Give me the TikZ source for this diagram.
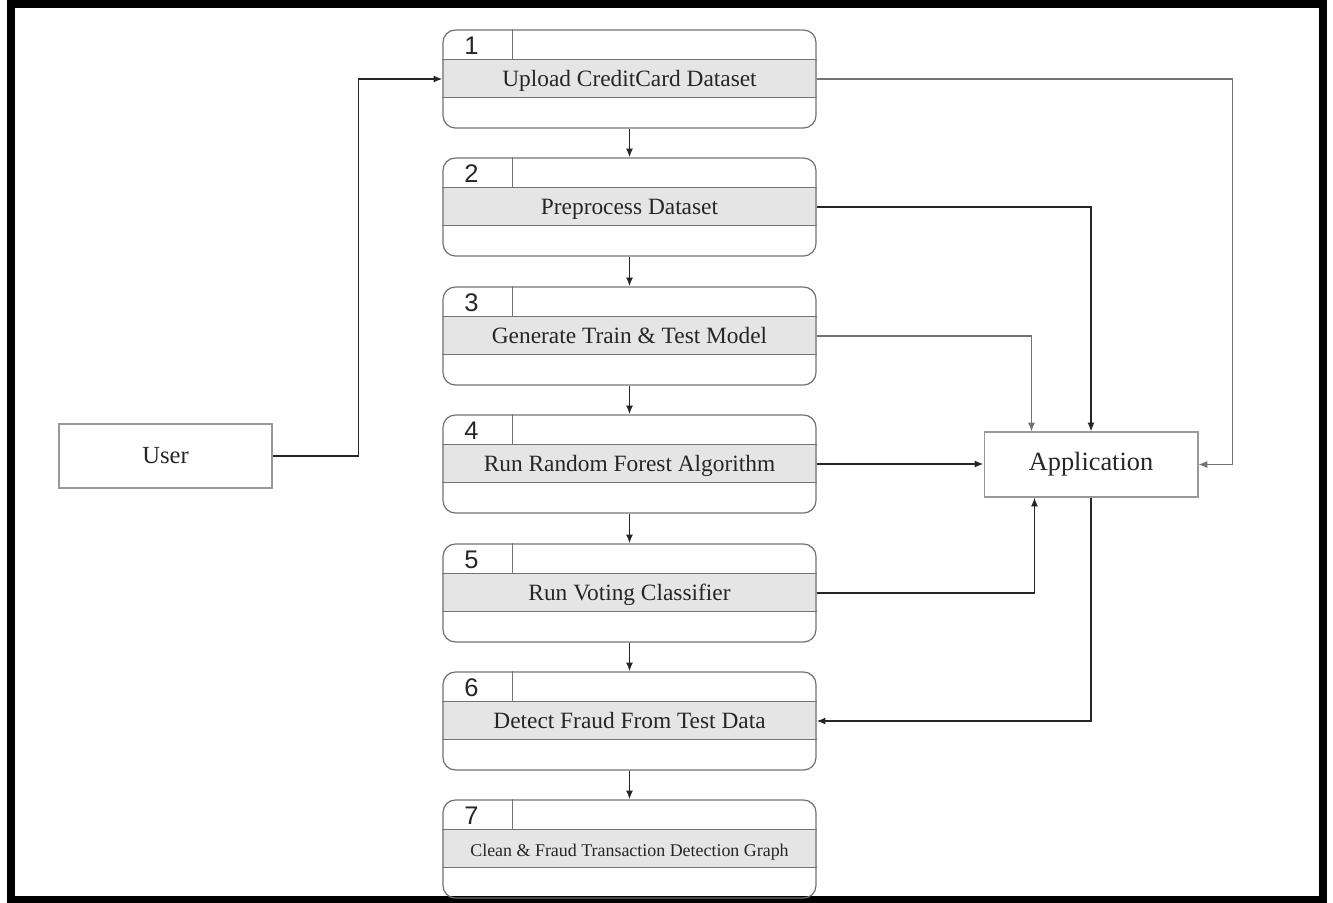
\documentclass[tikz,border=0pt]{standalone}
\usepackage{fontspec}
\setmainfont{Liberation Serif}
\newfontfamily\numfont{Liberation Sans}
\usetikzlibrary{arrows.meta, calc, backgrounds, positioning}

\begin{document}
\begin{tikzpicture}[x=0.02cm, y=-0.02cm,
  proc/.style={draw=black!55, line width=0.7pt, rounded corners=7pt,
    minimum width=7.46cm, minimum height=1.96cm, inner sep=0pt,
    text height=0.84em, text depth=0pt,
    font=\fontsize{13.3}{15}\selectfont, text=black!85},
  actor/.style={draw=black!40, line width=0.6pt, inner sep=0pt, text=black!85},
  numlabel/.style={font=\numfont\fontsize{14.5}{16}\selectfont, text=black!85},
  link/.style={draw=black!85, line width=0.9pt, -{Latex[length=5pt,width=4pt]}},
  faint/.style={link, draw=black!55, line width=0.7pt}]
  \useasboundingbox (0,0) rectangle (1333,903);

  % frame
  \draw[line width=4.5pt] (11,4) rectangle (1323,900);

  % process boxes
  \foreach \i/\y/\txt in {1/79/Upload CreditCard Dataset,
      2/207/Preprocess Dataset,
      3/336/{Generate Train \& Test Model},
      4/464/Run Random Forest Algorithm,
      5/593/Run Voting Classifier,
      6/721/Detect Fraud From Test Data,
      7/849/{\fontsize{10.2}{12}\selectfont Clean \& Fraud Transaction Detection Graph}} {
    \node[proc] (p\i) at (629.5,\y) {\txt};
    \begin{scope}[on background layer]
      \fill[black!10] ($(p\i.north west)+(0,30)$) rectangle ($(p\i.north east)+(0,68)$);
    \end{scope}
    \draw[black!55, line width=0.7pt] ($(p\i.north west)+(0,30)$) -- ($(p\i.north east)+(0,30)$);
    \draw[black!55, line width=0.7pt] ($(p\i.north west)+(0,68)$) -- ($(p\i.north east)+(0,68)$);
    \draw[black!55, line width=0.7pt] ($(p\i.north west)+(70,0)$) -- ($(p\i.north west)+(70,30)$);
    \node[numlabel] at ($(p\i.north west)+(29,16)$) {\i};
  }

  % external entities
  \node[actor, minimum width=4.26cm, minimum height=1.28cm,
    font=\fontsize{14}{16}\selectfont] (user) at (165.5,456) {User};
  \node[actor, minimum width=4.28cm, minimum height=1.3cm,
    font=\fontsize{15}{17}\selectfont] (app) at (1091,464.5) {Application};

  % flow between steps
  \foreach \i [count=\j from 2] in {1,...,6}
    \draw[link] (p\i.south) -- (p\j.north);

  % data flows
  \draw[link] (user.east) -- ++(86,0) |- (p1.west);
  \draw[faint] (p1.east) -| ($(app.east)+(34,0)$) -- (app.east);
  \draw[link] (p2.east) -| (app.north);
  \draw[faint] (p3.east) -| ($(app.north west)+(48,0)$);
  \draw[link] (p4.east) -- (p4.east -| app.west);
  \draw[link] (p5.east) -| ($(app.south west)+(51,0)$);
  \draw[link] (app.south) |- (p6.east);
\end{tikzpicture}
\end{document}
